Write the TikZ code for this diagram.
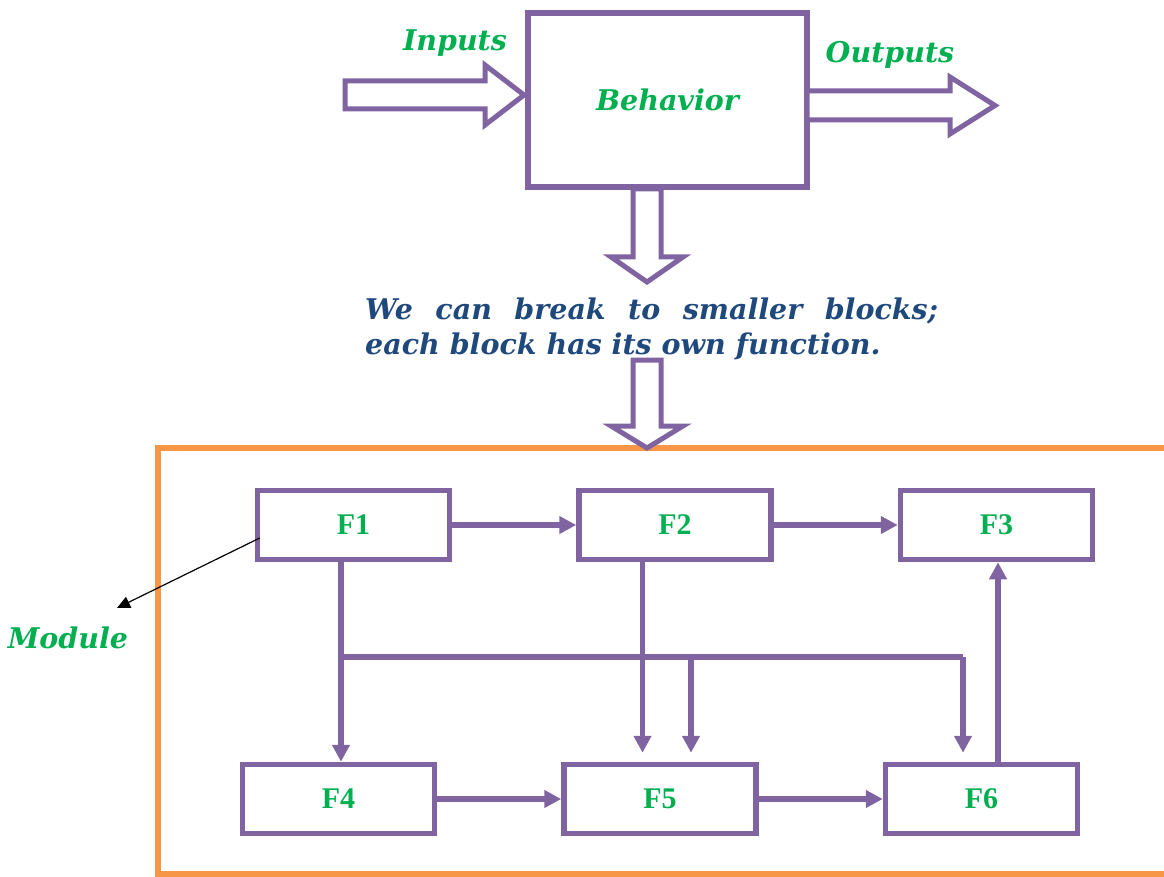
\documentclass[tikz,border=0pt]{standalone}
\usepackage{fontspec}
\usepackage{tikz}
\usetikzlibrary{arrows.meta,positioning,calc}
\newfontfamily\notefont{DejaVu Serif}
\newfontfamily\boxfont{Liberation Serif}
\definecolor{blockpurple}{HTML}{8064A2}
\definecolor{labelgreen}{HTML}{00B050}
\definecolor{noteblue}{HTML}{1F497D}
\definecolor{frameorange}{HTML}{F79646}

\begin{document}
\begin{tikzpicture}[
  x=1pt, y=-1pt,
  node distance=124pt,
  behbox/.style={draw=blockpurple, line width=5.5pt, minimum width=279pt, minimum height=174pt, text=labelgreen, font={\notefont\bfseries\itshape\fontsize{28.5}{32}\selectfont}},
  fbox/.style={draw=blockpurple, line width=5.5pt, minimum width=192pt, minimum height=69pt, text=labelgreen, font={\boxfont\bfseries\fontsize{30}{32}\selectfont}},
  lbl/.style={text=labelgreen, font={\notefont\bfseries\itshape\fontsize{28.5}{32}\selectfont}},
  hollow/.style={draw=blockpurple, line width=5pt, fill=white, line join=miter},
  conn/.style={draw=blockpurple, line width=5.5pt},
  arr/.style={conn, -{Triangle[length=17pt,width=17pt]}},
  gaparr/.style={arr, shorten >=9pt}
]
\useasboundingbox (0,0) rectangle (1164,877);
\clip (0,0) rectangle (1164,877);

% Module frame
\draw[frameorange, line width=5.5pt] (1180,448) -| (158,874) -- (1180,874);

% Behavior
\node[behbox] (beh) at (667.5,100) {Behavior};
\node[lbl] (in) at (455,43) {Inputs};
\node[lbl] (out) at (890,55) {Outputs};

% Block arrows
\draw[hollow] (345,81) -- (485,81) -- (485,65) -- (524,95) -- (485,125) -- (485,109) -- (345,109) -- cycle;
\draw[hollow] (807,91) -- (950,91) -- (950,77) -- (995,105.5) -- (950,134) -- (950,120) -- (807,120) -- cycle;
\draw[hollow] (633,189) -- (633,257) -- (611,257) -- (647,282) -- (683,257) -- (661,257) -- (661,189) -- cycle;

% Note
\node[anchor=north west, text width=573pt, align=justify, inner sep=0pt, text=noteblue,
      font={\notefont\bfseries\itshape\fontsize{28.5}{35}\selectfont}] (note) at (365,298)
  {We can break to smaller blocks;\linebreak each block has its own function.};

\draw[hollow] (633,360) -- (633,426) -- (611,426) -- (647,448) -- (683,426) -- (661,426) -- (661,360) -- cycle;

% Functions
\node[fbox] (F1) at (353.5,525) {F1};
\node[fbox, right=of F1] (F2) {F2};
\node[fbox, right=of F2] (F3) {F3};
\node[fbox] (F4) at (338.5,799) {F4};
\node[fbox, right=of F4] (F5) {F5};
\node[fbox, right=of F5] (F6) {F6};

% Arrows
\draw[arr] (F1) -- (F2);
\draw[arr] (F2) -- (F3);
\draw[arr] (F4) -- (F5);
\draw[arr] (F5) -- (F6);

% Down links
\coordinate (busL) at (341,657);
\coordinate (busM) at (691,657);
\coordinate (busR) at (963,657);
\draw[arr] (busL |- F1.south) -- (busL |- F4.north);
\draw[conn] (busL) -- (busR);
\draw[gaparr] (busR) -- (busR |- F6.north);
\draw[gaparr] (busM) -- (busM |- F5.north);
\draw[gaparr] ([xshift=-32.5pt]F2.south) -- ([xshift=-32.5pt]F2.south |- F5.north);
\draw[arr] ([xshift=16.5pt]F6.north) -- ([xshift=16.5pt]F6.north |- F3.south);

% Module label
\node[lbl] (mod) at (68,638) {Module};
\coordinate (modtip) at (117,608);
\draw[-{Triangle[length=13pt,width=12pt]}, line width=1.2pt] ([xshift=5pt,yshift=-13pt]F1.west) -- (modtip);

\end{tikzpicture}
\end{document}
